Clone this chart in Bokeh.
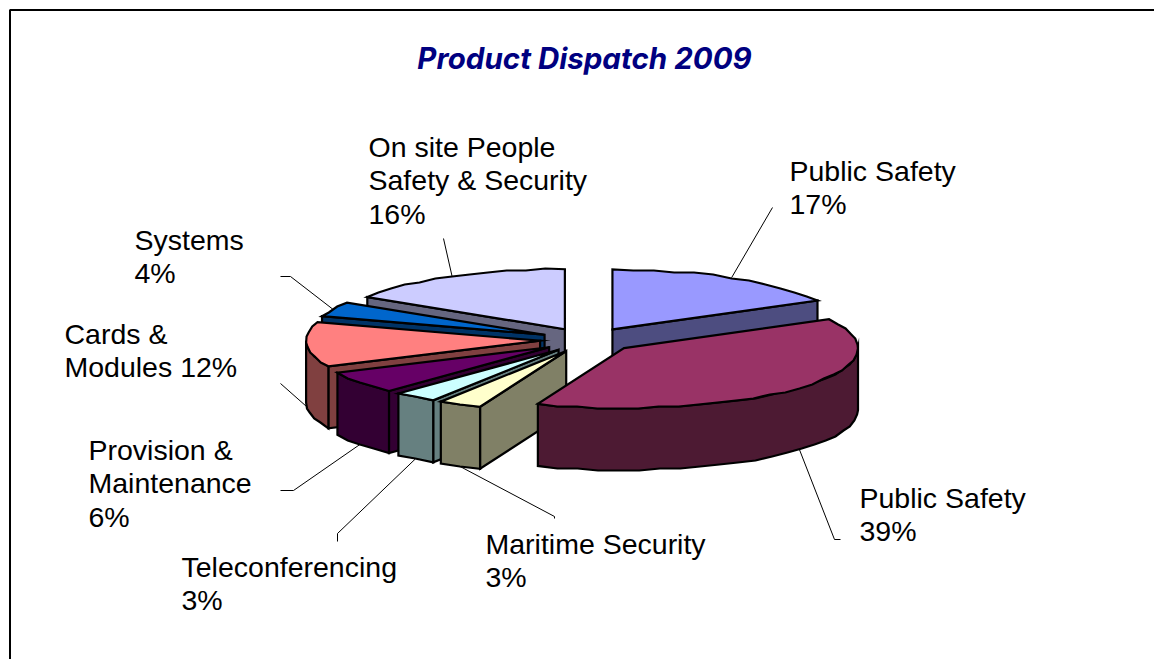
import math
from bokeh.plotting import figure
from bokeh.embed import file_html
from bokeh.resources import INLINE
from bokeh.models import Label

# data
categories = ["Public Safety", "Public Safety", "Maritime Security", "Teleconferencing",
              "Provision & Maintenance", "Cards & Modules", "Systems",
              "On site People Safety & Security"]
values = [17, 39, 3, 3, 6, 12, 4, 16]
label_lines = [["Public Safety", "17%"], ["Public Safety", "39%"], ["Maritime Security", "3%"],
               ["Teleconferencing", "3%"], ["Provision &", "Maintenance", "6%"],
               ["Cards &", "Modules 12%"], ["Systems", "4%"],
               ["On site People", "Safety & Security", "16%"]]
top_colors = ["#9999FF", "#993366", "#FFFFCC", "#CCFFFF", "#660066", "#FF8080", "#0066CC", "#CCCCFF"]
side_colors = ["#4D4D80", "#4D1A33", "#808066", "#668080", "#330033", "#804040", "#003366", "#666680"]

# layout
W, H = 1154, 659
CX, CY, RX, RY, DEPTH, EXPLODE = 587.5, 339.5, 234, 60, 62, 48
STEP = 5
GRID_Y = 2
label_pos = [(789, 170), (859, 497), (485, 543), (181, 566), (88, 449), (64, 333), (134, 239), (368, 146)]
leader_ends = [[(772, 207)], [(834, 539), (840, 539)], [(554, 516), (554, 518)], [(337, 533), (337, 541)],
               [(293, 490), (280, 490)], [(280, 383)], [(290, 276), (280, 276)], [(443, 238)]]
LINE_H = 33.5

p = figure(width=W, height=H, x_range=(0, W), y_range=(H, 0), output_backend="svg",
           toolbar_location=None, min_border=0, outline_line_color=None, background_fill_color="white")
p.axis.visible = False
p.grid.visible = False

# frame: only top and left edges fall inside the picture
p.line([9.5, 9.5, W], [H, 9.5, 9.5], line_color="black", line_width=2)

total = sum(values)


def rim(ax, ay, deg):
    a = math.radians(deg)
    return ax + RX * math.sin(a), ay - RY * math.cos(a)


def arc_pts(ax, ay, a0, a1):
    n = max(2, int(round((a1 - a0) / STEP)) + 1)
    pts = [rim(ax, ay, a0 + (a1 - a0) * i / (n - 1)) for i in range(n)]
    # the original's rims are slightly stepped: snap inner points to a coarse pixel grid
    return [pts[0]] + [(x, round(y / GRID_Y) * GRID_Y) for x, y in pts[1:-1]] + [pts[-1]]


slices = []
acc = 0
for i, v in enumerate(values):
    a0 = 360 * acc / total
    acc += v
    a1 = 360 * acc / total
    mid = math.radians((a0 + a1) / 2)
    ax = CX + EXPLODE * math.sin(mid)
    ay = CY - EXPLODE * RY / RX * math.cos(mid)
    slices.append((i, a0, a1, ax, ay))

draw_order = [0, 7, 6, 5, 4, 3, 2, 1]
kw = dict(line_color="black", line_width=2.2, line_join="miter")
for i in draw_order:
    _, a0, a1, ax, ay = slices[i]
    side = side_colors[i]
    # cut faces visible to the viewer
    for edge, visible in ((a0, 180 <= a0 < 360), (a1, 0 < a1 <= 180)):
        if visible:
            ex, ey = rim(ax, ay, edge)
            p.patch([ax, ex, ex, ax], [ay, ey, ey + DEPTH, ay + DEPTH], fill_color=side, **kw)
    # outer wall (front half of the rim only)
    w0, w1 = max(a0, 90), min(a1, 270)
    if w1 > w0:
        pts = arc_pts(ax, ay, w0, w1)
        xs = [q[0] for q in pts]
        ys = [q[1] for q in pts]
        p.patch(xs + xs[::-1], ys + [y + DEPTH for y in ys[::-1]], fill_color=side, **kw)
    # top face
    pts = arc_pts(ax, ay, a0, a1)
    p.patch([ax] + [q[0] for q in pts], [ay] + [q[1] for q in pts], fill_color=top_colors[i], **kw)

# leader lines start on the slice rim at mid angle
for i, (_, a0, a1, ax, ay) in enumerate(slices):
    m = (a0 + a1) / 2
    sx, sy = rim(ax, ay, m)
    if 90 < m < 270:
        sy += DEPTH
    p.line([sx] + [q[0] for q in leader_ends[i]], [sy] + [q[1] for q in leader_ends[i]],
           line_color="black", line_width=1, level="underlay")

# labels
for (lx, ly), lines in zip(label_pos, label_lines):
    for k, t in enumerate(lines):
        p.add_layout(Label(x=lx, y=ly + k * LINE_H, text=t, text_font="Liberation Sans",
                           text_font_size="28.5px", text_color="black",
                           text_baseline="middle", text_align="left"))

p.add_layout(Label(x=584, y=57.5, text="Product Dispatch 2009", text_font="Inter",
                   text_font_size="29.5px", text_font_style="bold italic", text_color="#000080",
                   text_baseline="middle", text_align="center"))

open("out.html", "w").write(file_html(p, INLINE))
